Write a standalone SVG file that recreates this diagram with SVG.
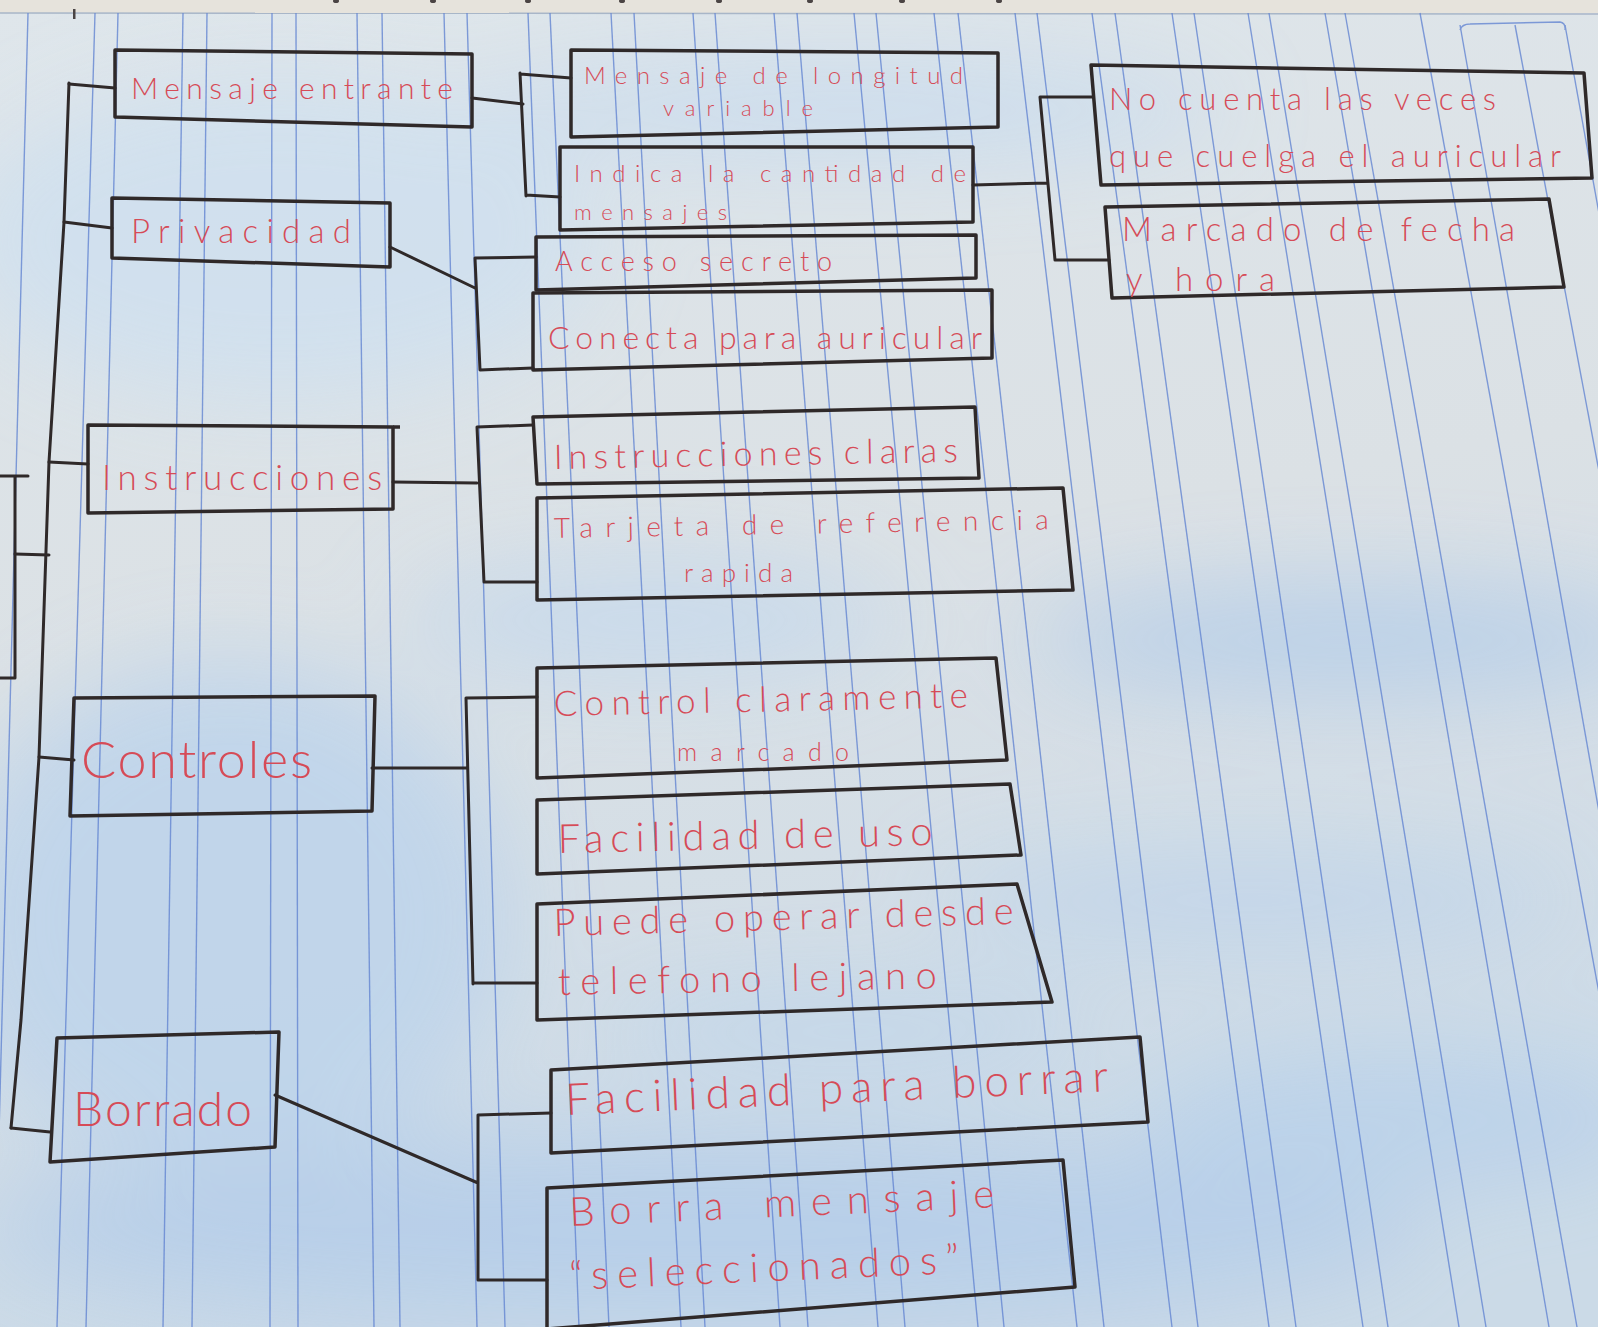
<svg xmlns="http://www.w3.org/2000/svg" width="1598" height="1327" viewBox="0 0 1598 1327">
<defs>
<filter id="blur" x="-50%" y="-50%" width="200%" height="200%"><feGaussianBlur stdDeviation="45"/></filter>
<linearGradient id="paper" x1="0" y1="0" x2="0.2" y2="1">
<stop offset="0" stop-color="#dfe6eb"/>
<stop offset="0.5" stop-color="#dbe1e5"/>
<stop offset="1" stop-color="#cbdae7"/>
</linearGradient>
<style>
.box{fill:none;stroke:#2f2929;stroke-width:3.5;stroke-linejoin:round}
.conn{fill:none;stroke:#2f2929;stroke-width:3;stroke-linecap:round;stroke-linejoin:round}
.lbl{fill:#d64b57;font-family:Lato,"Open Sans","Liberation Sans",sans-serif;font-weight:300}
.grid{stroke:#6486d2;stroke-width:1.4;opacity:0.8}
</style>
</defs>
<!-- paper -->
<rect width="1598" height="1327" fill="url(#paper)"/>
<g filter="url(#blur)" opacity="0.85">
<ellipse cx="280" cy="240" rx="320" ry="160" fill="#cfe0ef"/>
<ellipse cx="850" cy="110" rx="380" ry="50" fill="#c9dcee"/>
<ellipse cx="1350" cy="640" rx="320" ry="55" fill="#b6cee8"/>
<ellipse cx="1250" cy="900" rx="320" ry="45" fill="#bfd4ea"/>
<ellipse cx="230" cy="920" rx="280" ry="260" fill="#bed4eb"/>
<ellipse cx="700" cy="1230" rx="720" ry="95" fill="#b5cee9"/>
<ellipse cx="1400" cy="1120" rx="260" ry="70" fill="#bad1ea"/>
<ellipse cx="850" cy="1030" rx="250" ry="40" fill="#c0d5ea"/>
<ellipse cx="650" cy="620" rx="250" ry="60" fill="#c6d9ec"/>
</g>
<rect x="0" y="0" width="1598" height="13" fill="#e6e3dc"/>
<line x1="0" y1="13" x2="1598" y2="14" stroke="#a8b6c8" stroke-width="1.5"/>
<g fill="#4a4444">
<ellipse cx="336" cy="1" rx="3" ry="2"/><ellipse cx="433" cy="1" rx="3" ry="2"/><ellipse cx="528" cy="1" rx="3" ry="2"/><ellipse cx="622" cy="1" rx="3" ry="2"/><ellipse cx="719" cy="1" rx="3" ry="2"/><ellipse cx="810" cy="1" rx="3" ry="2"/><ellipse cx="902" cy="1" rx="3" ry="2"/><ellipse cx="999" cy="1" rx="3" ry="2"/>
<rect x="73" y="9" width="2.5" height="10"/>
</g>
<!-- ruled lines -->
<g class="grid">
<line x1="28" y1="13" x2="-6" y2="1327"/>
<line x1="95" y1="13" x2="57" y2="1327"/><line x1="118" y1="13" x2="86" y2="1327"/>
<line x1="183" y1="13" x2="163" y2="1327"/><line x1="207" y1="13" x2="192" y2="1327"/>
<line x1="272" y1="13" x2="270" y2="1327"/><line x1="296" y1="13" x2="298" y2="1327"/>
<line x1="357" y1="13" x2="374" y2="1327"/><line x1="382" y1="13" x2="400" y2="1327"/>
<line x1="444" y1="13" x2="477" y2="1327"/><line x1="467" y1="13" x2="505" y2="1327"/>
<line x1="528" y1="13" x2="579" y2="1327"/><line x1="550" y1="13" x2="609" y2="1327"/>
<line x1="611" y1="13" x2="681" y2="1327"/><line x1="634" y1="13" x2="705" y2="1327"/>
<line x1="693" y1="13" x2="780" y2="1327"/><line x1="715" y1="13" x2="808" y2="1327"/>
<line x1="774" y1="13" x2="878" y2="1327"/><line x1="797" y1="13" x2="905" y2="1327"/>
<line x1="854" y1="13" x2="978" y2="1327"/><line x1="876" y1="13" x2="1004" y2="1327"/>
<line x1="934" y1="13" x2="1077" y2="1327"/><line x1="958" y1="13" x2="1104" y2="1327"/>
<line x1="1015" y1="13" x2="1172" y2="1327"/><line x1="1037" y1="13" x2="1198" y2="1327"/>
<line x1="1092" y1="13" x2="1269" y2="1327"/><line x1="1115" y1="13" x2="1296" y2="1327"/>
<line x1="1172" y1="13" x2="1363" y2="1327"/><line x1="1194" y1="13" x2="1388" y2="1327"/>
<line x1="1248" y1="13" x2="1459" y2="1327"/><line x1="1269" y1="13" x2="1486" y2="1327"/>
<line x1="1325" y1="13" x2="1549" y2="1327"/><line x1="1345" y1="13" x2="1577" y2="1327"/>
<line x1="1420" y1="13" x2="1660" y2="1327"/><line x1="1460" y1="25" x2="1690" y2="1327"/>
<line x1="1515" y1="25" x2="1760" y2="1327"/><line x1="1565" y1="25" x2="1800" y2="1327"/>
<path d="M1460,30 Q1462,24 1470,24 L1560,22 Q1566,23 1565,30" fill="none"/>
</g>
<!-- connectors -->
<g id="connectors" class="conn">
<path d="M0,476 H28 M15,476 V678 M0,678 H15"/>
<path d="M15,554 L49,555"/>
<polyline points="69,83 64,222 49,462 39,757 21,1020 11,1128"/>
<path d="M69,84 L115,88"/>
<path d="M64,222 L112,228"/>
<path d="M49,462 L88,464"/>
<path d="M39,757 L74,760"/>
<path d="M11,1128 L50,1132"/>
<path d="M472,98 L523,104 M520,73 L526,196 M520,74 L571,78 M526,195 L560,197"/>
<path d="M390,247 L475,288 M475,258 L480,370 M475,258 L536,257 M480,370 L533,368"/>
<path d="M973,185 L1048,183 M1040,97 L1055,260 M1040,97 L1092,97 M1055,260 L1109,260"/>
<path d="M393,482 L477,483 M477,427 L484,582 M477,427 L533,425 M484,582 L537,582"/>
<path d="M372,768 L466,768 M466,698 L473,984 M466,698 L537,697 M473,983 L537,983"/>
<path d="M275,1095 L478,1183 M478,1115 L478,1280 M478,1115 L551,1113 M478,1280 L547,1280"/>
</g>
<!-- nodes -->
<g id="n-mensaje-entrante">
<polygon class="box" points="115,50 472,54 472,127 115,117"/>
<text class="lbl" x="131" y="99" font-size="30" textLength="322" lengthAdjust="spacing">Mensaje entrante</text>
</g>
<g id="n-privacidad">
<polygon class="box" points="112,198 390,203 390,267 112,258"/>
<text class="lbl" x="131" y="243" font-size="33" textLength="220" lengthAdjust="spacing">Privacidad</text>
</g>
<g id="n-instrucciones">
<polygon class="box" points="88,425 393,427 393,509 88,513"/>
<line class="box" x1="393" y1="427" x2="400" y2="427"/>
<text class="lbl" x="102" y="490" font-size="35" textLength="280" lengthAdjust="spacing">Instrucciones</text>
</g>
<g id="n-controles">
<polygon class="box" points="74,698 375,696 372,811 70,816"/>
<text class="lbl" x="81" y="778" font-size="52" textLength="231" lengthAdjust="spacing">Controles</text>
</g>
<g id="n-borrado">
<polygon class="box" points="57,1038 279,1032 275,1147 50,1162"/>
<text class="lbl" x="73" y="1126" font-size="48" textLength="179" lengthAdjust="spacing">Borrado</text>
</g>
<g id="n-longitud">
<polygon class="box" points="571,50 998,53 998,127 571,137"/>
<text class="lbl" x="584" y="84" font-size="24" textLength="379" lengthAdjust="spacing">Mensaje de longitud</text>
<text class="lbl" x="663" y="116" font-size="22" textLength="150" lengthAdjust="spacing">variable</text>
</g>
<g id="n-indica">
<polygon class="box" points="560,147 973,147 973,222 560,230"/>
<text class="lbl" x="574" y="182" font-size="24" textLength="392" lengthAdjust="spacing">Indica la cantidad de</text>
<text class="lbl" x="574" y="220" font-size="22" textLength="153" lengthAdjust="spacing">mensajes</text>
</g>
<g id="n-acceso">
<polygon class="box" points="536,237 976,235 976,278 536,290"/>
<text class="lbl" x="555" y="271" font-size="27" textLength="277" lengthAdjust="spacing">Acceso secreto</text>
</g>
<g id="n-conecta">
<polygon class="box" points="533,293 992,290 992,358 533,370"/>
<text class="lbl" x="548" y="349" font-size="32" textLength="434" lengthAdjust="spacing">Conecta para auricular</text>
</g>
<g id="n-claras">
<polygon class="box" points="533,417 975,407 979,478 537,484"/>
<text class="lbl" x="554" y="469" font-size="34" textLength="404" lengthAdjust="spacing" transform="rotate(-1 554 469)">Instrucciones claras</text>
</g>
<g id="n-tarjeta">
<polygon class="box" points="537,498 1063,488 1073,590 537,600"/>
<text class="lbl" x="554" y="538" font-size="28" textLength="495" lengthAdjust="spacing" transform="rotate(-1 554 538)">Tarjeta de referencia</text>
<text class="lbl" x="684" y="582" font-size="26" textLength="109" lengthAdjust="spacing">rapida</text>
</g>
<g id="n-control">
<polygon class="box" points="537,668 996,658 1007,760 537,778"/>
<text class="lbl" x="554" y="716" font-size="35" textLength="414" lengthAdjust="spacing" transform="rotate(-1.2 554 716)">Control claramente</text>
<text class="lbl" x="677" y="761" font-size="25" textLength="172" lengthAdjust="spacing">marcado</text>
</g>
<g id="n-facilidad-uso">
<polygon class="box" points="537,800 1010,784 1021,855 537,874"/>
<text class="lbl" x="558" y="853" font-size="40" textLength="375" lengthAdjust="spacing" transform="rotate(-1.2 558 853)">Facilidad de uso</text>
</g>
<g id="n-puede">
<polygon class="box" points="537,904 1017,884 1052,1002 537,1020"/>
<text class="lbl" x="554" y="936" font-size="38" textLength="460" lengthAdjust="spacing" transform="rotate(-1.5 554 936)">Puede operar desde</text>
<text class="lbl" x="558" y="995" font-size="38" textLength="379" lengthAdjust="spacing" transform="rotate(-1 558 995)">telefono lejano</text>
</g>
<g id="n-facilidad-borrar">
<polygon class="box" points="551,1070 1140,1037 1148,1122 551,1153"/>
<text class="lbl" x="566" y="1115" font-size="44" textLength="543" lengthAdjust="spacing" transform="rotate(-2.5 566 1115)">Facilidad para borrar</text>
</g>
<g id="n-borra-seleccionados">
<polygon class="box" points="547,1188 1063,1160 1075,1287 547,1329"/>
<text class="lbl" x="570" y="1226" font-size="40" textLength="425" lengthAdjust="spacing" transform="rotate(-2.5 570 1226)">Borra mensaje</text>
<text class="lbl" x="570" y="1290" font-size="40" textLength="390" lengthAdjust="spacing" transform="rotate(-2.5 570 1290)">“seleccionados”</text>
</g>
<g id="n-no-cuenta">
<polygon class="box" points="1091,65 1584,73 1592,178 1101,185"/>
<text class="lbl" x="1109" y="110" font-size="31" textLength="387" lengthAdjust="spacing">No cuenta las veces</text>
<text class="lbl" x="1109" y="167" font-size="31" textLength="452" lengthAdjust="spacing">que cuelga el auricular</text>
</g>
<g id="n-marcado">
<polygon class="box" points="1105,207 1549,199 1564,287 1112,298"/>
<text class="lbl" x="1122" y="241" font-size="33" textLength="393" lengthAdjust="spacing">Marcado de fecha</text>
<text class="lbl" x="1126" y="291" font-size="33" textLength="149" lengthAdjust="spacing">y hora</text>
</g>
</svg>
